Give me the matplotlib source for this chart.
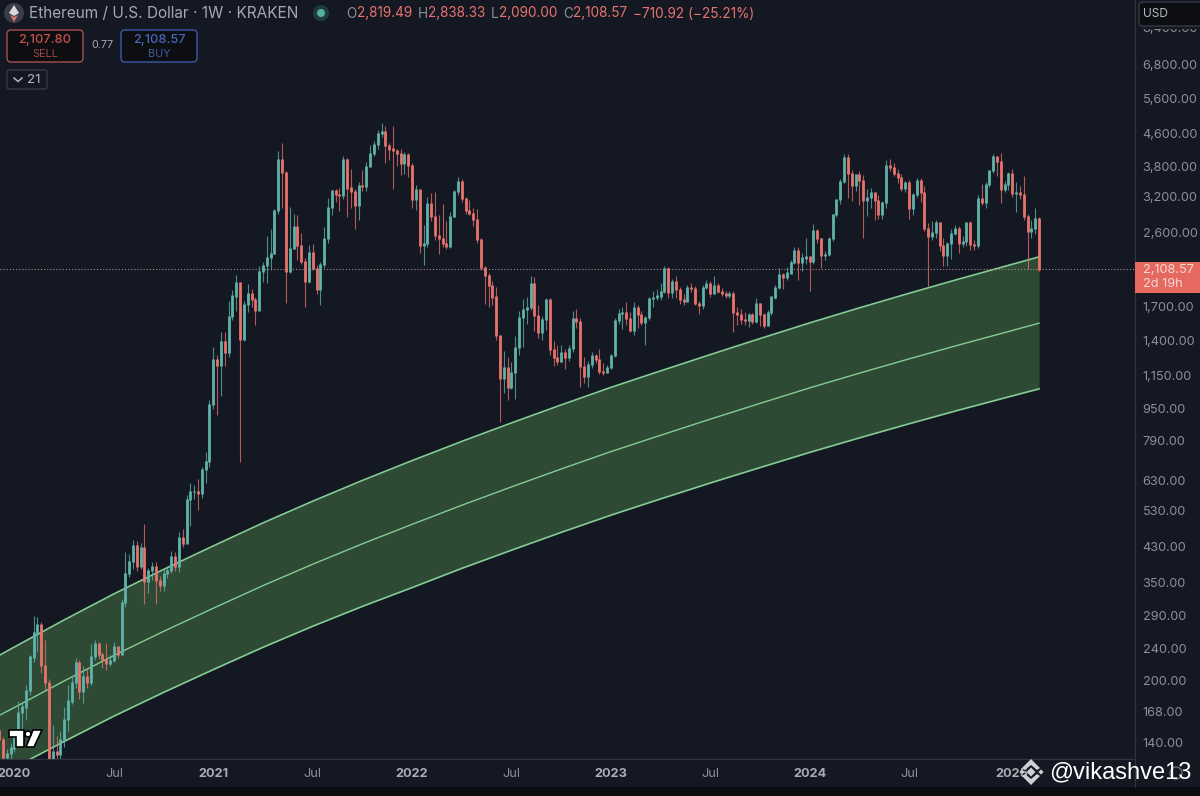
import numpy as np
import pandas as pd
import matplotlib
matplotlib.use('Agg')
import matplotlib.pyplot as plt
import matplotlib.dates as mdates
from matplotlib.patches import Circle, FancyBboxPatch, Polygon, Rectangle

plt.rcParams['font.family'] = ['Inter', 'DejaVu Sans']

first_open = 150
first_week = '2019-12-09'

closes = [
    143, 129, 132, 136, 146, 167, 172, 189, 229, 264,
    276, 218, 198, 125, 133, 131, 143, 160, 178, 198,
    222, 188, 205, 198, 230, 247, 232, 226, 221, 224,
    243, 233, 313, 370, 395, 433, 385, 428, 353, 375,
    385, 355, 345, 370, 375, 408, 385, 455, 438, 563,
    590, 590, 585, 672, 700, 975, 1256, 1215, 1395, 1310,
    1610, 1810, 1955, 1415, 1720, 1835, 1770, 1670, 2080, 2150,
    2260, 2310, 2950, 3950, 3680, 2085, 2370, 2700, 2420, 2200,
    1970, 2320, 2120, 1880, 2170, 2520, 3000, 3310, 3230, 3220,
    3960, 3360, 3300, 3040, 3400, 3380, 3810, 4090, 4300, 4600,
    4640, 4280, 4200, 4170, 4090, 3870, 4070, 3830, 3150, 3330,
    2420, 2450, 3070, 2850, 2560, 2520, 2440, 2400, 2860, 3290,
    3490, 3170, 2960, 2900, 2800, 2500, 2130, 2040, 1920, 1800,
    1440, 1130, 1200, 1075, 1170, 1345, 1600, 1680, 1695, 1940,
    1620, 1470, 1580, 1770, 1330, 1270, 1245, 1310, 1270, 1340,
    1595, 1565, 1210, 1140, 1225, 1285, 1260, 1175, 1165, 1200,
    1290, 1570, 1640, 1650, 1590, 1490, 1690, 1630, 1555, 1600,
    1785, 1795, 1810, 1860, 2120, 1850, 1965, 1880, 1770, 1755,
    1905, 1890, 1735, 1710, 1905, 1945, 1840, 1925, 1860, 1835,
    1820, 1840, 1650, 1625, 1585, 1570, 1630, 1565, 1735, 1625,
    1530, 1650, 1800, 1900, 2045, 2010, 2065, 2190, 2355, 2190,
    2250, 2270, 2210, 2640, 2510, 2280, 2300, 2510, 2880, 3140,
    3490, 3990, 3650, 3400, 3620, 3500, 3130, 3180, 3270, 3120,
    2880, 3090, 3830, 3780, 3660, 3570, 3350, 3470, 2980, 3240,
    3510, 3280, 2660, 2550, 2610, 2750, 2420, 2280, 2450, 2590,
    2660, 2440, 2470, 2750, 2430, 2420, 3170, 3090, 3430, 3720,
    4030, 3900, 3340, 3420, 3660, 3260, 3280, 3230, 2860, 2620,
    2660, 2819.49, 2108.57,
]
highs = [
    152, 145, 135, 140, 150, 178, 176, 195, 232, 290,
    288, 280, 252, 202, 155, 146, 150, 172, 195, 205,
    228, 225, 218, 215, 247, 253, 250, 235, 248, 232,
    250, 243, 320, 418, 412, 448, 445, 440, 490, 382,
    395, 395, 365, 378, 385, 420, 418, 468, 478, 580,
    620, 615, 635, 680, 740, 1000, 1350, 1290, 1470, 1470,
    1760, 1870, 2040, 1960, 1760, 1935, 1880, 1800, 2150, 2200,
    2550, 2650, 2980, 4150, 4350, 3700, 3020, 2900, 2880, 2600,
    2250, 2420, 2440, 2160, 2200, 2680, 3180, 3330, 3340, 3360,
    4030, 4000, 3750, 3350, 3470, 3720, 3900, 4300, 4400, 4680,
    4868, 4790, 4340, 4790, 4200, 4200, 4120, 4110, 3880, 3420,
    3340, 2720, 3200, 3270, 3290, 2880, 3060, 2780, 2920, 3330,
    3580, 3530, 3200, 3140, 3000, 2980, 2520, 2150, 2060, 1970,
    1910, 1450, 1320, 1280, 1240, 1440, 1660, 1780, 1800, 2030,
    2020, 1720, 1610, 1790, 1790, 1395, 1370, 1365, 1335, 1370,
    1660, 1680, 1600, 1275, 1245, 1310, 1300, 1340, 1230, 1220,
    1300, 1600, 1680, 1700, 1745, 1650, 1745, 1720, 1660, 1615,
    1800, 1860, 1880, 1955, 2150, 2135, 1990, 2025, 1905, 1830,
    1930, 1950, 1915, 1760, 1930, 1985, 1970, 2030, 1950, 1890,
    1860, 1860, 1860, 1700, 1680, 1650, 1640, 1640, 1790, 1740,
    1640, 1670, 1810, 1930, 2130, 2070, 2140, 2230, 2400, 2400,
    2320, 2520, 2280, 2730, 2660, 2530, 2340, 2540, 2900, 3160,
    3530, 4090, 4090, 3730, 3640, 3700, 3620, 3350, 3360, 3290,
    3230, 3110, 3950, 3970, 3880, 3740, 3640, 3500, 3520, 3270,
    3550, 3560, 3400, 2750, 2780, 2800, 2770, 2530, 2470, 2650,
    2720, 2700, 2550, 2770, 2780, 2500, 3230, 3430, 3480, 3730,
    4090, 4040, 4100, 3490, 3680, 3750, 3470, 3400, 3600, 2900,
    2800, 3000, 2838.33,
]
lows = [
    134, 116, 124, 125, 133, 142, 152, 160, 184, 222,
    235, 209, 190, 90, 108, 122, 125, 137, 150, 175,
    192, 180, 176, 192, 195, 225, 227, 215, 213, 217,
    222, 228, 232, 305, 362, 378, 375, 380, 310, 330,
    355, 310, 335, 335, 360, 370, 375, 372, 430, 440,
    485, 565, 530, 570, 620, 680, 950, 915, 1020, 1210,
    1280, 1580, 1660, 700, 1400, 1650, 1700, 1530, 1670, 1960,
    1950, 2100, 2300, 2900, 3000, 1740, 2060, 2370, 2220, 2170,
    1700, 1950, 2100, 1830, 1720, 2130, 2450, 2880, 3100, 2950,
    3150, 2850, 3000, 2650, 2800, 3300, 3300, 3780, 4030, 4200,
    4500, 3880, 3950, 3350, 3800, 3620, 3650, 3570, 3000, 2970,
    2315, 2160, 2400, 2780, 2500, 2300, 2400, 2370, 2380, 2840,
    3230, 3100, 2900, 2880, 2700, 2450, 2100, 1730, 1700, 1720,
    1410, 880, 1040, 1000, 1065, 1005, 1290, 1350, 1540, 1670,
    1480, 1420, 1405, 1490, 1290, 1215, 1220, 1240, 1190, 1245,
    1310, 1505, 1075, 1100, 1075, 1200, 1230, 1155, 1150, 1165,
    1190, 1280, 1540, 1500, 1530, 1475, 1450, 1505, 1530, 1370,
    1580, 1700, 1770, 1770, 1845, 1785, 1790, 1790, 1725, 1720,
    1745, 1850, 1720, 1630, 1680, 1880, 1800, 1830, 1840, 1815,
    1790, 1790, 1470, 1530, 1540, 1530, 1515, 1540, 1555, 1525,
    1510, 1525, 1620, 1780, 1880, 1880, 1985, 2060, 2170, 1985,
    2085, 2170, 1860, 2180, 2450, 2130, 2220, 2280, 2480, 2850,
    3060, 3450, 3180, 3120, 3310, 3050, 2520, 2870, 3000, 2800,
    2820, 2820, 2990, 3700, 3600, 3450, 3300, 3280, 2810, 2880,
    3200, 3100, 2630, 1915, 2500, 2530, 2340, 2150, 2150, 2240,
    2560, 2310, 2400, 2410, 2350, 2350, 2380, 3050, 3000, 3380,
    3660, 3600, 3090, 3290, 3330, 3200, 2930, 3150, 2800, 2110,
    2520, 2580, 2090,
]

# band read every quarter, band_weeks counts weeks from first_week
band_weeks = [0, 4, 17, 30, 43, 56, 69, 82, 95, 108, 121, 134, 147, 160, 173, 186, 199, 212, 225, 238, 251, 265, 272]
band_top = [231.1, 242.6, 283.2, 328.7, 378.2, 432.7, 493.6, 558.9, 629.6, 705.2, 787.2, 875.2,
            970.2, 1072.5, 1178.8, 1294.1, 1418.3, 1551.8, 1691.1, 1838.5, 1994.3, 2170.7, 2264.8]
band_mid = [163.9, 171.6, 199.7, 231.1, 265.2, 302.8, 344.7, 389.6, 437.9, 489.6, 546.2, 606.6,
            672.1, 742.5, 815.2, 894.3, 978.6, 1069.5, 1163.5, 1262.7, 1367.3, 1485.6, 1549.3]
band_low = [116.2, 121.7, 141.2, 163.2, 187.0, 213.1, 242.1, 273.1, 306.0, 340.8, 380.4, 422.2,
            467.5, 515.9, 566.3, 620.3, 677.5, 739.1, 803.1, 870.7, 941.7, 1021.5, 1063.3]

last_price = 2108.57
price_ticks = [140, 168, 200, 240, 290, 350, 430, 530, 630, 790, 950, 1150, 1400, 1700,
               2600, 3200, 3800, 4600, 5600, 6800, 8400]
time_ticks = ['2020-01-06', '2020-07-06', '2021-01-04', '2021-07-05', '2022-01-03', '2022-07-04',
              '2023-01-02', '2023-07-03', '2024-01-01', '2024-07-01', '2025-01-06']
time_labels = ['2020', 'Jul', '2021', 'Jul', '2022', 'Jul', '2023', 'Jul', '2024', 'Jul', '2025']

BG = '#141823'
UP = '#5fb3aa'
DOWN = '#e8736d'
LINE = '#84cc94'
FILL = '#2e4a34'
GREY = '#8b8f9a'

W, H = 1200, 796
fig = plt.figure(figsize=(W / 100, H / 100), dpi=100, facecolor=BG)
ax = fig.add_axes([0, 1 - 759 / H, 1135 / W, 759 / H], facecolor=BG)

opens = np.array([first_open] + closes[:-1], dtype=float)
closes = np.array(closes, dtype=float)
highs = np.array(highs, dtype=float)
lows = np.array(lows, dtype=float)
x = mdates.date2num(pd.date_range(first_week, periods=len(closes), freq='7D'))
up = closes >= opens

# band
bx = x[band_weeks]
ax.fill_between(bx, band_low, band_top, color=FILL, lw=0, zorder=1)
ax.plot(bx, band_top, color=LINE, lw=1.2, zorder=2)
ax.plot(bx, band_mid, color=LINE, lw=1.0, zorder=2)
ax.plot(bx, band_low, color=LINE, lw=1.2, zorder=2)

# dotted last price
ax.axhline(last_price, color='#a98c86', lw=0.8, ls=(0, (1, 1.8)), zorder=2)

# candles
body_top = np.maximum(opens, closes) * 1.003
body_bot = np.minimum(opens, closes) / 1.003
ax.vlines(x[up], lows[up], highs[up], colors=UP, lw=0.8, alpha=0.75, zorder=3)
ax.vlines(x[~up], lows[~up], highs[~up], colors=DOWN, lw=0.8, alpha=0.75, zorder=3)
ax.vlines(x[up], body_bot[up], body_top[up], colors=UP, lw=2.0, capstyle='butt', zorder=4)
ax.vlines(x[~up], body_bot[~up], body_top[~up], colors=DOWN, lw=2.0, capstyle='butt', zorder=4)

ax.set_yscale('log')
ax.set_ylim(127.7, 9860)
days_per_px = 7 / 3.823
left = x[0] + 0.8 * days_per_px
ax.set_xlim(left, left + 1135 * days_per_px)

ax.yaxis.tick_right()
ax.set_yticks(price_ticks, [f'{v:,.2f}' for v in price_ticks])
ax.minorticks_off()
ax.tick_params(axis='y', length=0, pad=5.5, labelsize=9.2, labelcolor=GREY)
ax.set_xticks(mdates.date2num(pd.to_datetime(time_ticks)), time_labels)
ax.tick_params(axis='x', length=0, pad=6.5, labelsize=9.2, labelcolor=GREY)
for lab in ax.get_xticklabels():
    if lab.get_text() != 'Jul':
        lab.set_fontweight('bold')
        lab.set_color('#a9acb5')
for name in ['top', 'left']:
    ax.spines[name].set_visible(False)
for name in ['right', 'bottom']:
    ax.spines[name].set_color('#32353f')
    ax.spines[name].set_linewidth(0.9)

# everything around the chart is drawn in pixel coordinates
ov = fig.add_axes([0, 0, 1, 1], facecolor='none')
ov.set_xlim(0, W)
ov.set_ylim(H, 0)
ov.axis('off')

ov.add_patch(Rectangle((0, 787), W, 9, color='#0b0c0f', lw=0))
ov.plot([1135, 1135], [759, 787], color='#32353f', lw=0.9)

# ethereum icon and status dot
ov.add_patch(Circle((14, 13), 10, color='#3a3d47', lw=0))
ov.add_patch(Polygon([(14, 5), (19, 13), (14, 16), (9, 13)], color='#d9d9dc', lw=0))
ov.add_patch(Polygon([(14, 17), (18, 15), (14, 22), (10, 15)], color='#d8776f', lw=0))
ov.add_patch(Circle((321, 13), 8, color='#1f3d3a', lw=0))
ov.add_patch(Circle((321, 13), 4, color='#57b09f', lw=0))

ov.text(29, 13.5, 'Ethereum / U.S. Dollar · 1W · KRAKEN', color='#a5a8b1', fontsize=11.05, va='center')
px = 346
for part, col in [('O', GREY), ('2,819.49', DOWN), ('H', GREY), ('2,838.33', DOWN), ('L', GREY),
                  ('2,090.00', DOWN), ('C', GREY), ('2,108.57', DOWN), ('−710.92 (−25.21%)', DOWN)]:
    t = ov.text(px, 13.5, part, color=col, fontsize=9.8, va='center')
    bb = t.get_window_extent(fig.canvas.get_renderer())
    px += bb.width + (5.5 if col == DOWN else 0.5)

# sell / buy boxes
ov.add_patch(FancyBboxPatch((7, 30), 76, 32, boxstyle='round,pad=0,rounding_size=4', fc='#0d0e12', ec='#a84f4b', lw=1))
ov.text(45, 40.5, '2,107.80', color='#c8514d', fontsize=9.2, ha='center', va='center', fontweight='medium')
ov.text(45, 54, 'SELL', color='#9c4a47', fontsize=7.8, ha='center', va='center')
ov.text(102, 45.5, '0.77', color='#a5a8b1', fontsize=7.8, ha='center', va='center')
ov.add_patch(FancyBboxPatch((121, 30), 76, 32, boxstyle='round,pad=0,rounding_size=4', fc='#0d0e12', ec='#3d5aa8', lw=1))
ov.text(159, 40.5, '2,108.57', color='#4a66b8', fontsize=9.2, ha='center', va='center', fontweight='medium')
ov.text(159, 54, 'BUY', color='#435a9e', fontsize=7.8, ha='center', va='center')
ov.add_patch(FancyBboxPatch((7, 70), 40, 19, boxstyle='round,pad=0,rounding_size=2', fc=BG, ec='#3a3d47', lw=0.9))
ov.plot([14, 18, 22], [78, 81.5, 78], color='#b5b8c0', lw=1.1)
ov.text(27, 80, '21', color='#b5b8c0', fontsize=9.6, va='center')

# USD box covers the top price label
ov.add_patch(Rectangle((1136, 0), 64, 29, color=BG, lw=0))
ov.add_patch(FancyBboxPatch((1139, 2), 70, 24, boxstyle='round,pad=0,rounding_size=4', fc='#0d0e12', ec='#3a3d47', lw=0.9))
ov.text(1143, 14, 'USD', color='#b5b8c0', fontsize=8.6, va='center')

# last price tag
ov.add_patch(Rectangle((1135, 262), 65, 31, color='#e5695f', lw=0))
ov.text(1143, 270, '2,108.57', color='#f3d9d5', fontsize=9.2, va='center')
ov.text(1143, 284, '2d 19h', color='#f3d9d5', fontsize=9.2, va='center')

# tradingview logo
logo_kw = dict(fc='white', ec='black', lw=1.2)
ov.add_patch(Polygon([(9, 730), (24, 730), (24, 747), (16, 747), (16, 737), (9, 737)], **logo_kw))
ov.add_patch(Polygon([(33, 730), (42, 730), (34, 747), (26, 747)], **logo_kw))
ov.add_patch(Circle((28, 734), 3, **logo_kw))

# watermark
wm = '#cfd0d2'
for cx, cy, r in [(1031, 772, 4.5), (1022, 772, 2.6), (1041, 772, 2.6)]:
    ov.add_patch(Polygon([(cx - r, cy), (cx, cy - r), (cx + r, cy), (cx, cy + r)], color=wm, lw=0))
ov.add_patch(Polygon([(1031, 759), (1040, 768), (1037, 770), (1031, 765), (1025, 770), (1022, 768)], color=wm, lw=0))
ov.add_patch(Polygon([(1031, 785), (1040, 776), (1037, 774), (1031, 779), (1025, 774), (1022, 776)], color=wm, lw=0))
ov.add_patch(Circle((1176, 773), 6, fc='none', ec='#6b6e78', lw=1))
ov.text(1049, 772, '@vikashve13', color='white', fontsize=17, family='Liberation Sans', va='center')

fig.savefig('out.png', dpi=100, facecolor=BG)
